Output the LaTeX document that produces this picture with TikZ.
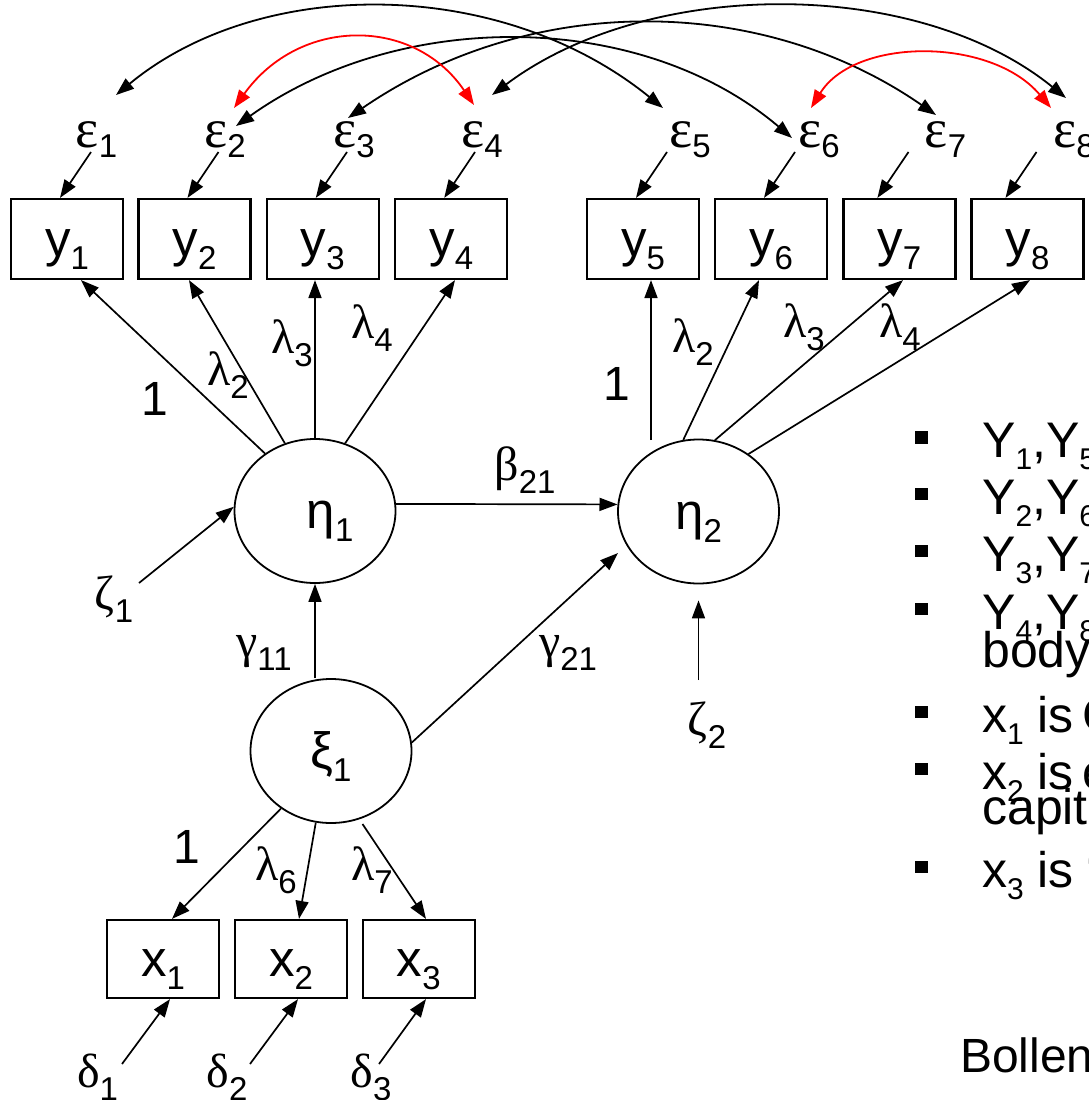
\documentclass[tikz,border=0pt]{standalone}
\usepackage{fontspec}
\setmainfont{Liberation Sans}
\newfontfamily\grk{Liberation Serif}
\usetikzlibrary{arrows.meta,calc,shapes.geometric}

% subscript helpers
\newcommand\sbx[2][13pt]{\raisebox{-#1}{\fontsize{33}{33}\selectfont #2}}
\newcommand\sbb[1]{\raisebox{-12pt}{\fontsize{30}{30}\selectfont #1}}
\newcommand\gk[1]{{\grk #1}}

\tikzset{
  obs/.style={draw, line width=2.2pt, minimum width=112pt, minimum height=80pt,
    inner sep=0pt, text height=35pt, text depth=0pt},
  lat/.style={draw, ellipse, line width=1.8pt, minimum width=161pt,
    minimum height=144pt, inner sep=0pt, text height=35pt, text depth=0pt},
  tip/.tip={Triangle[length=18pt,width=13pt]},
  arr/.style={line width=1.7pt, -tip},
  cov/.style={line width=1.8pt, tip-tip},
  redcov/.style={cov, red},
  lab/.style={inner sep=0pt, anchor=base, font=\fontsize{48}{48}\selectfont},
  errlab/.style={inner sep=0pt, anchor=base, font=\fontsize{55}{55}\selectfont},
  bul/.style={fill=black, minimum size=12.5pt, inner sep=0pt},
  btxt/.style={inner sep=0pt, anchor=base west, font=\fontsize{50}{50}\selectfont},
}

\begin{document}
\begin{tikzpicture}[x=1pt, y=-1pt, font=\fontsize{51}{51}\selectfont]
\useasboundingbox (0,0) rectangle (1089,1100);
\clip (0,0) rectangle (1089,1100);

% indicators of eta
\node[obs] (y1) at (67,239)    {y\sbx{1}};
\node[obs] (y2) at (194.5,239) {y\sbx{2}};
\node[obs] (y3) at (322.8,239) {y\sbx{3}};
\node[obs] (y4) at (451.2,239) {y\sbx{4}};
\node[obs] (y5) at (643,239)   {y\sbx{5}};
\node[obs] (y6) at (771,239)   {y\sbx{6}};
\node[obs] (y7) at (899.4,239) {y\sbx{7}};
\node[obs] (y8) at (1027.5,239){y\sbx{8}};

% indicators of xi
\node[obs, minimum height=78pt] (x1) at (163,959)   {x\sbx{1}};
\node[obs, minimum height=78pt] (x2) at (291,959)   {x\sbx{2}};
\node[obs, minimum height=78pt] (x3) at (418.7,959) {x\sbx{3}};

% latent variables
\node[lat] (eta1) at (315,511)   {\hspace*{30pt}η\sbx{1}};
\node[lat] (eta2) at (698.5,511.5) {η\sbx{2}};
\node[lat] (xi1)  at (331,751)   {ξ\sbx{1}};

% measurement errors
\node[errlab] (e1) at (96.5,147) {\gk{ε}\sbx[10pt]{1}};
\node[errlab] (e2) at (225,147)  {\gk{ε}\sbx[10pt]{2}};
\node[errlab] (e3) at (354,147)  {\gk{ε}\sbx[10pt]{3}};
\node[errlab] (e4) at (482,147)  {\gk{ε}\sbx[10pt]{4}};
\node[errlab] (e5) at (690,147)  {\gk{ε}\sbx[10pt]{5}};
\node[errlab] (e6) at (819,147)  {\gk{ε}\sbx[10pt]{6}};
\node[errlab] (e7) at (945.5,147){\gk{ε}\sbx[10pt]{7}};
\node[errlab] (e8) at (1074,147) {\gk{ε}\sbx[10pt]{8}};

\node[lab] (d1) at (97.5,1087) {\gk{δ}\sbx{1}};
\node[lab] (d2) at (227,1087)  {\gk{δ}\sbx{2}};
\node[lab] (d3) at (371,1087)  {\gk{δ}\sbx{3}};

\node[lab] (z1) at (114,609) {\gk{ζ}\sbx{1}};
\node[lab] (z2) at (707,735) {\gk{ζ}\sbx{2}};

% path coefficients
\node[lab] (l1a) at (155,415) {1};
\node[lab] (l2a) at (228,385) {\gk{λ}\sbx{2}};
\node[lab] (l3a) at (292,353) {\gk{λ}\sbx{3}};
\node[lab] (l4a) at (372,338) {\gk{λ}\sbx{4}};
\node[lab] (l1b) at (617,400) {1};
\node[lab] (l2b) at (693,352) {\gk{λ}\sbx{2}};
\node[lab] (l3b) at (804,337) {\gk{λ}\sbx{3}};
\node[lab] (l4b) at (900,337) {\gk{λ}\sbx{4}};
\node[lab] (b21) at (525,480) {\gk{β}\sbx{21}};
\node[lab] (g11) at (264,657) {\gk{γ}\sbx{11}};
\node[lab] (g21) at (568,657) {\gk{γ}\sbx{21}};
\node[lab] (l1c) at (187,863) {1};
\node[lab] (l6)  at (276,880) {\gk{λ}\sbx{6}};
\node[lab] (l7)  at (372,880) {\gk{λ}\sbx{7}};

% errors into y indicators
\draw[arr] ([shift={(-5.5,5)}]e1.base) -- ([shift={(-7,0)}]y1.north);
\draw[arr] ([shift={(-6.5,5)}]e2.base) -- ([shift={(-7,0)}]y2.north);
\draw[arr] ([shift={(-7,5)}]e3.base)   -- ([shift={(-7,0)}]y3.north);
\draw[arr] ([shift={(-7,5)}]e4.base)   -- ([shift={(-7,0)}]y4.north);
\draw[arr] ([shift={(-23,5)}]e5.base)  -- ([shift={(-7,0)}]y5.north);
\draw[arr] ([shift={(-24,5)}]e6.base)  -- ([shift={(-7,0)}]y6.north);
\draw[arr] ([shift={(-37,5)}]e7.base)  -- ([shift={(-22,0)}]y7.north);
\draw[arr] ([shift={(-37.5,5)}]e8.base)-- ([shift={(-22,0)}]y8.north);

% loadings of eta1
\draw[arr] (eta1.131) -- ([shift={(14,0)}]y1.south);
\draw[arr] (eta1.114) -- ([shift={(-5.5,0)}]y2.south);
\draw[arr] (eta1.north) -- ([shift={(-7.8,0)}]y3.south);
\draw[arr] (eta1.66) -- ([shift={(3.8,0)}]y4.south);

% loadings of eta2
\draw[arr] ([shift={(-47.5,-71.5)}]eta2.center) -- ([shift={(8,0)}]y5.south);
\draw[arr] (eta2.102.4) -- ([shift={(-12,0)}]y6.south);
\draw[arr] (eta2.77.6) -- ([shift={(3.6,0)}]y7.south);
\draw[arr] (eta2.49.3) -- ([shift={(2.5,0)}]y8.south);

% structural paths
\draw[arr] (eta1.5) -- (eta2.175);
\draw[arr] (eta1.south |- xi1.north) -- (eta1.south);
\draw[arr] (xi1.6) -- ([shift={(-80.5,41.5)}]eta2.center);
\draw[arr] ([shift={(25,-26)}]z1.base) -- (eta1.177);
\draw[arr] ([shift={(-8.5,-55)}]z2.base) -- ([shift={(0,16)}]eta2.south);

% loadings of xi1
\draw[arr] (xi1.229) -- ([shift={(9,0)}]x1.north);
\draw[arr] (xi1.258) -- ([shift={(8,0)}]x2.north);
\draw[arr] ([shift={(31.5,73)}]xi1.center) -- ([shift={(7.3,0)}]x3.north);

% errors into x indicators
\draw[arr] ([shift={(24.5,-23)}]d1.base) -- ([shift={(7,0)}]x1.south);
\draw[arr] ([shift={(23,-23)}]d2.base)   -- ([shift={(7,0)}]x2.south);
\draw[arr] ([shift={(8,-23)}]d3.base)    -- ([shift={(7.3,0)}]x3.south);

% correlated errors
\draw[cov] ([shift={(19.5,-52)}]e1.base) .. controls (260,-24) and (500,-24) .. ([shift={(-27,-39)}]e5.base);
\draw[cov] ([shift={(11,-21)}]e2.base) .. controls (400,9) and (640,9) .. ([shift={(-27,-9)}]e6.base);
\draw[cov] ([shift={(-6,-29)}]e3.base) .. controls (530,-7) and (760,-7) .. ([shift={(-9.5,-32)}]e7.base);
\draw[cov] ([shift={(10,-52)}]e4.base) .. controls (649,-23) and (917,-23) .. ([shift={(-8,-49)}]e8.base);
\draw[redcov] ([shift={(9,-39)}]e2.base) .. controls (300,16.5) and (414,16.5) .. ([shift={(-8,-42)}]e4.base);
\draw[redcov] ([shift={(-8,-39)}]e6.base) .. controls (855,37) and (991,37) .. ([shift={(-23,-39)}]e8.base);

% notes on the indicators
\node[bul] (b1) at (921.5,437.5) {};
\node[bul] (b2) at (921.5,494) {};
\node[bul] (b3) at (921.5,551) {};
\node[bul] (b4) at (921.5,609) {};
\node[bul] (b5) at (921.5,712) {};
\node[bul] (b6) at (921.5,769) {};
\node[bul] (b7) at (921.5,867) {};
\node[btxt] (n1) at (982,457.5) {Y\sbb{1},Y\sbb{5}};
\node[btxt] (n2) at (982,514) {Y\sbb{2},Y\sbb{6}};
\node[btxt] (n3) at (982,571) {Y\sbb{3},Y\sbb{7}};
\node[btxt] (n4) at (982,629) {Y\sbb{4},Y\sbb{8}};
\node[btxt] (n4b) at (982,667) {body};
\node[btxt] (n5) at (982,732) {x\sbb{1} is\hspace{9pt}G};
\node[btxt] (n6) at (982,789) {x\sbb{2} is\hspace{9pt}e};
\node[btxt] (n6b) at (982,824) {capita};
\node[btxt] (n7) at (982,887) {x\sbb{3} is “};
\node[btxt, font=\fontsize{48}{48}\selectfont] (src) at (960,1072) {Bollen};
\end{tikzpicture}
\end{document}
